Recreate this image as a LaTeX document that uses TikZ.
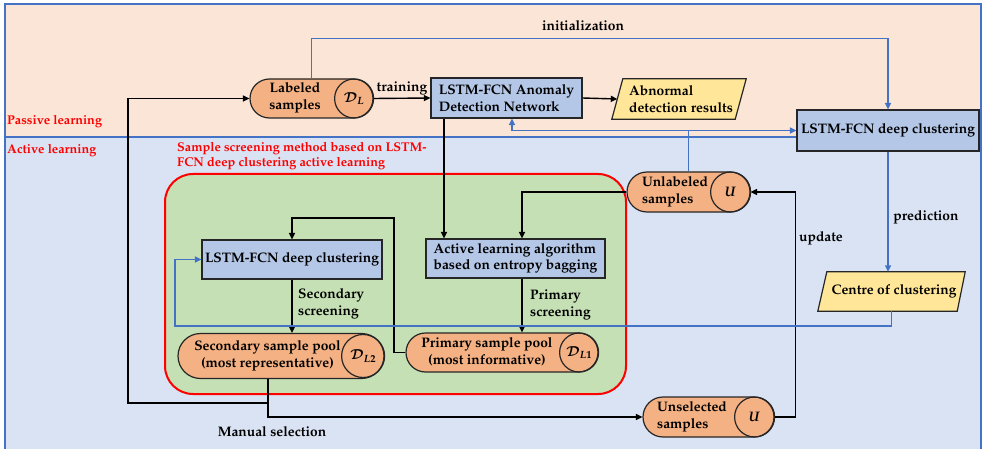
\documentclass[tikz,border=0pt]{standalone}
\usepackage[T1]{fontenc}
\usepackage{mathpazo}
\usetikzlibrary{arrows.meta,calc}
\definecolor{peach}{HTML}{FBE5D6}
\definecolor{lblue}{HTML}{DAE3F3}
\definecolor{lgreen}{HTML}{C5E0B4}
\definecolor{boxblue}{HTML}{B4C7E7}
\definecolor{pillor}{HTML}{F4B183}
\definecolor{pyellow}{HTML}{FFE699}
\definecolor{lineblue}{HTML}{4472C4}
\begin{document}
\begin{tikzpicture}[x=1pt,y=-1pt,
  font=\fontsize{13.8}{16.5}\selectfont\bfseries\boldmath,
  box/.style={draw=black!85, line width=1.2pt, fill=boxblue, inner sep=0pt, align=left},
  pill/.style={draw=black!85, line width=1.2pt, fill=pillor, inner sep=0pt},
  pillc/.style={draw=black!85, line width=1.2pt, circle, inner sep=0pt},
  paral/.style={draw=black!85, line width=1.2pt, fill=pyellow},
  txt/.style={inner sep=0pt, align=center},
  ltxt/.style={inner sep=0pt, align=left},
  redtxt/.style={text=red, inner sep=0pt, font=\fontsize{12.7}{15.5}\selectfont\bfseries},
  arr/.style={draw=black, line width=1.4pt, -{Triangle[length=6.5pt,width=6pt]}},
  barr/.style={draw=lineblue, line width=1.5pt, -{Triangle[length=6.5pt,width=6pt]}},
  lab/.style={inner sep=0pt}
]
\useasboundingbox (0,0) rectangle (984,449);
% backgrounds
\fill[white] (0,0) rectangle (984,449);
\fill[peach] (5,4) rectangle (981,137);
\fill[lblue] (5,137) rectangle (981,452);
\draw[lineblue, line width=1.5pt] (5,452) -- (5,4) -- (981,4) -- (981,452);
\draw[lineblue, line width=1.5pt] (5,137) -- (981,137);
\draw[red, line width=2pt, fill=lgreen, rounded corners=28pt] (165,174) rectangle (626,394);

% region labels
\node[redtxt, anchor=west] (pl) at (7,122) {Passive learning};
\node[redtxt, anchor=west] (al) at (7,151) {Active learning};
\node[redtxt, anchor=north west, align=left] (ssm) at (177,142) {Sample screening method based on LSTM-\\FCN deep clustering active learning};

% boxes
\node[box, minimum width=151pt, minimum height=40pt] (anom) at (506.5,98) {LSTM-FCN Anomaly\\Detection Network};
\node[box, minimum width=182pt, minimum height=41pt] (dc) at (888,130.5) {LSTM-FCN deep clustering};
\node[box, minimum width=180pt, minimum height=39pt] (dc2) at (292,259.5) {LSTM-FCN deep clustering};
\node[box, minimum width=179pt, minimum height=39pt] (alg) at (515.5,258.5) {Active learning algorithm\\based on entropy bagging};

% parallelograms
\node[inner sep=0pt, minimum width=134pt, minimum height=40pt] (abn) at (679,99) {};
\draw[paral] ($(abn.north west)+(11,0)$) -- (abn.north east) -- ($(abn.south east)+(-11,0)$) -- (abn.south west) -- cycle;
\node[ltxt] (abnt) at (681,99) {Abnormal\\detection results};
\node[inner sep=0pt, minimum width=147pt, minimum height=39pt] (cen) at (891.5,291.5) {};
\draw[paral] ($(cen.north west)+(9,0)$) -- (cen.north east) -- ($(cen.south east)+(-8,0)$) -- (cen.south west) -- cycle;
\node[txt] (cent) at (894,291) {Centre of clustering};

% pills
\node[pill, minimum width=123pt, minimum height=39pt, rounded corners=19.5pt] (lab) at (311.5,98.5) {};
\node[pillc, minimum size=39pt] (labc) at ($(lab.east)+(-19.5,0)$) {$\mathcal{D}_L$};
\node[txt] (labt) at (295,98) {Labeled\\samples};

\node[pill, minimum width=123pt, minimum height=40pt, rounded corners=20pt] (unl) at (688.5,192) {};
\node[pillc, minimum size=40pt] (unlc) at ($(unl.east)+(-20,0)$) {$U$};
\node[ltxt] (unlt) at (675,192) {Unlabeled\\samples};

\node[pill, minimum width=192pt, minimum height=39pt, rounded corners=19.5pt] (prim) at (502,352.5) {};
\node[pillc, minimum size=39pt] (primc) at ($(prim.east)+(-19.5,0)$) {$\mathcal{D}_{L1}$};
\node[txt] (primt) at (487,352) {Primary sample pool\\(most informative)};

\node[pill, minimum width=206pt, minimum height=45pt, rounded corners=22.5pt] (sec) at (281,356) {};
\node[pillc, minimum size=43pt] (secc) at ($(sec.east)+(-21.5,0)$) {$\mathcal{D}_{L2}$};
\node[txt] (sect) at (267.5,356) {Secondary sample pool\\(most representative)};

\node[pill, minimum width=131pt, minimum height=40pt, rounded corners=20pt] (unsel) at (708.5,417) {};
\node[pillc, minimum size=40pt] (unselc) at ($(unsel.east)+(-20,0)$) {$U$};
\node[ltxt] (unselt) at (692,417) {Unselected\\samples};

% coordinates
\coordinate (loopL) at (128,403);
\coordinate (pk) at (394,218);
\coordinate (bl) at (175,326);

% black connectors
\draw[arr] ([xshift=-13pt]sec.south) |- (loopL) |- (lab.west);
\draw[arr] ([xshift=-13pt]sec.south) |- (unsel.west);
\draw[arr] (lab.east) -- (anom.west);
\draw[arr] (anom.east) -- ([xshift=5.5pt]abn.west);
\draw[arr] ([xshift=-62.5pt]anom.south) -- ([xshift=-62.5pt]anom.south |- alg.north);
\draw[arr] (unl.west) -| ([xshift=6.5pt]alg.north);
\draw[arr] ([xshift=6.5pt]alg.south) -- ([xshift=6.5pt]alg.south |- prim.north);
\draw[arr] (prim.west) -| (pk) -| (dc2.north);
\draw[arr] (dc2.south) -- (dc2.south |- sec.north);
\draw[arr] (unsel.east) -| ([xshift=45pt]unl.east) -- (unl.east);

% blue connectors
\draw[barr] (lab.north) -- ([yshift=40pt]lab.north) -| (dc.north);
\draw[barr] (unl.north) |- (dc.west);
\draw[barr] (unl.north |- dc.west) -| ([xshift=5.5pt]anom.south);
\draw[barr] (dc.south) -- (dc.south |- cen.north);
\draw[barr] (cen.south) |- (bl) |- (dc2.west);

% connector labels
\node[lab] (ltrain) at (402,88) {training};
\node[lab] (linit) at (583,26) {initialization};
\node[lab] (lpred) at (926,217) {prediction};
\node[lab] (lupd) at (821,238) {update};
\node[lab] (lman) at (272,432) {Manual selection};
\node[ltxt, anchor=west] (lsec) at (298,304) {Secondary\\screening};
\node[ltxt, anchor=west] (lprim) at (530,305) {Primary\\screening};
\end{tikzpicture}
\end{document}
